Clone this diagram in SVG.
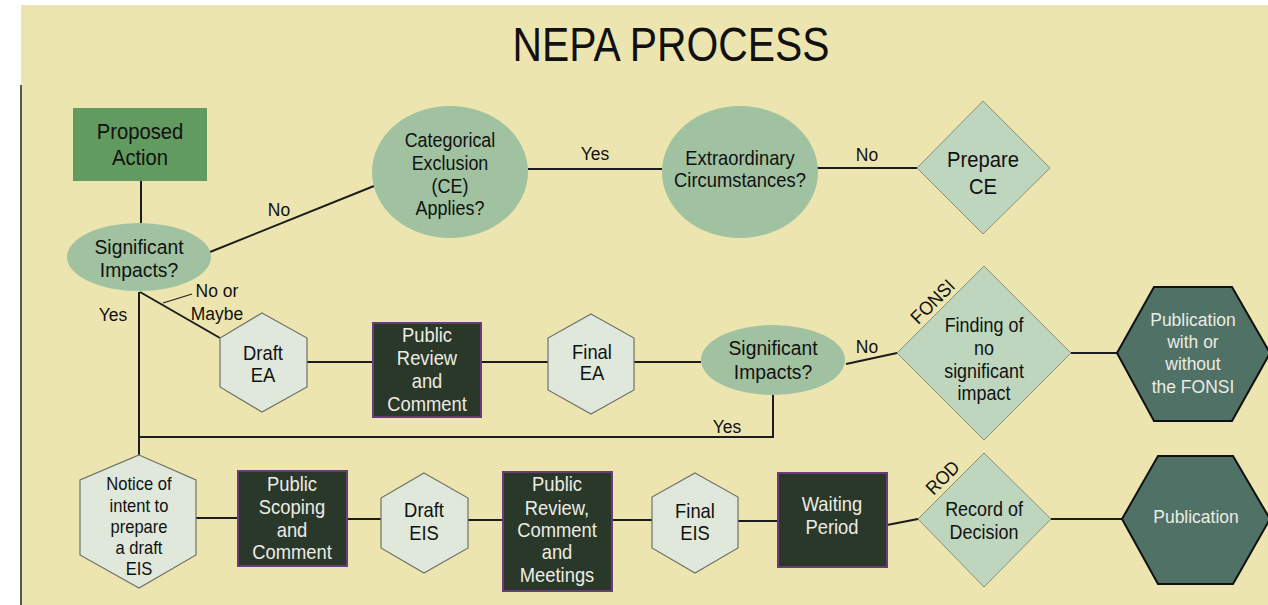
<svg xmlns="http://www.w3.org/2000/svg" width="1268" height="605" viewBox="0 0 1268 605">
<style>
text{font-family:"Liberation Sans",Arial,sans-serif;text-anchor:middle;fill:#111;transform-box:fill-box;transform-origin:center;transform:scaleX(0.92)}
text.title{transform:none}
.w{fill:#ecece4}
.lbl{font-size:19px}
.ell{fill:#a0c2a0}
.dia{fill:#bfd6be;stroke:#8a8f78;stroke-width:1}
.hexl{fill:#dfe8db;stroke:#6f7268;stroke-width:1.2}
.hexd{fill:#4f7166;stroke:#111;stroke-width:2}
.box{fill:#2a382a;stroke:#6a3d7a;stroke-width:2}
#connectors line,#connectors polyline{stroke:#1c1c1c;stroke-width:2;fill:none}
</style>
<rect x="0" y="0" width="1268" height="605" fill="#ffffff"/>
<rect x="21" y="5" width="1247" height="600" fill="#ede5b0"/>
<line x1="21" y1="85" x2="21" y2="605" stroke="#555" stroke-width="2"/>
<text class="title" x="671" y="61" style="font-size:48px" textLength="317" lengthAdjust="spacingAndGlyphs">NEPA PROCESS</text>

<g id="connectors">
<line x1="141" y1="181" x2="141" y2="223"/>
<line x1="210" y1="252" x2="374" y2="186"/>
<line x1="528" y1="169" x2="662" y2="169"/>
<line x1="817" y1="168" x2="917" y2="168"/>
<line x1="140" y1="292" x2="220" y2="338"/>
<line x1="163" y1="303" x2="192" y2="294" style="stroke-width:1.2"/>
<line x1="139" y1="292" x2="139" y2="455"/>
<polyline points="139,437 773,437 773,394"/>
<line x1="307" y1="362" x2="372" y2="362"/>
<line x1="481" y1="362" x2="548" y2="362"/>
<line x1="634" y1="362" x2="701" y2="362"/>
<line x1="846" y1="364" x2="897" y2="353"/>
<line x1="1071" y1="353" x2="1117" y2="353"/>
<line x1="196" y1="518" x2="238" y2="518"/>
<line x1="347" y1="519" x2="381" y2="519"/>
<line x1="468" y1="520" x2="503" y2="520"/>
<line x1="612" y1="520" x2="652" y2="520"/>
<line x1="738" y1="521" x2="778" y2="521"/>
<line x1="887" y1="525" x2="918" y2="519"/>
<line x1="1051" y1="519" x2="1122" y2="519"/>
<text class="lbl" x="279" y="216">No</text>
<text class="lbl" x="595" y="160">Yes</text>
<text class="lbl" x="867" y="161">No</text>
<text class="lbl" x="217" y="297">No or</text>
<text class="lbl" x="217" y="320">Maybe</text>
<text class="lbl" x="113" y="321">Yes</text>
<text class="lbl" x="727" y="433">Yes</text>
<text class="lbl" x="867" y="353">No</text>
<g transform="translate(933,302) rotate(-45)"><text class="lbl" x="0" y="6">FONSI</text></g>
<g transform="translate(943,478) rotate(-45)"><text class="lbl" x="0" y="6">ROD</text></g>
</g>

<g id="proposed-action">
<rect x="73" y="108" width="134" height="73" fill="#629b5f"/>
<text x="140" y="139" style="font-size:22px">Proposed</text>
<text x="140" y="165" style="font-size:22px">Action</text>
</g>

<g id="significant-impacts-1">
<ellipse class="ell" cx="139" cy="257" rx="72" ry="34"/>
<text x="139" y="254" style="font-size:21px">Significant</text>
<text x="139" y="277" style="font-size:21px">Impacts?</text>
</g>

<g id="ce-applies">
<ellipse class="ell" cx="450" cy="172" rx="78" ry="66"/>
<g style="font-size:19.5px">
<text x="450" y="147">Categorical</text>
<text x="450" y="170">Exclusion</text>
<text x="450" y="193">(CE)</text>
<text x="450" y="215">Applies?</text>
</g>
</g>

<g id="extraordinary">
<ellipse class="ell" cx="740" cy="172" rx="78" ry="66"/>
<text x="740" y="165" style="font-size:20px">Extraordinary</text>
<text x="740" y="187" style="font-size:20px">Circumstances?</text>
</g>

<g id="prepare-ce">
<polygon class="dia" points="917,168 983,101 1050,168 983,234"/>
<text x="983" y="167" style="font-size:22px">Prepare</text>
<text x="983" y="194" style="font-size:22px">CE</text>
</g>

<g id="draft-ea">
<polygon class="hexl" points="262,313 307,338 307,387 262,412 220,387 220,338"/>
<text x="263" y="360" style="font-size:20px">Draft</text>
<text x="263" y="382" style="font-size:20px">EA</text>
</g>

<g id="public-review-ea">
<rect class="box" x="373" y="323" width="108" height="94"/>
<g style="font-size:20px">
<text class="w" x="427" y="342">Public</text>
<text class="w" x="427" y="365">Review</text>
<text class="w" x="427" y="388">and</text>
<text class="w" x="427" y="411">Comment</text>
</g>
</g>

<g id="final-ea">
<polygon class="hexl" points="591,314 634,338 634,390 591,414 548,390 548,338"/>
<text x="592" y="359" style="font-size:20px">Final</text>
<text x="592" y="380" style="font-size:20px">EA</text>
</g>

<g id="significant-impacts-2">
<ellipse class="ell" cx="773" cy="360" rx="72" ry="35"/>
<text x="773" y="355" style="font-size:21px">Significant</text>
<text x="773" y="379" style="font-size:21px">Impacts?</text>
</g>

<g id="fonsi">
<polygon class="dia" points="897,353 984,266 1071,353 984,440"/>
<g style="font-size:19.5px">
<text x="984" y="332">Finding of</text>
<text x="984" y="355">no</text>
<text x="984" y="378">significant</text>
<text x="984" y="400">impact</text>
</g>
</g>

<g id="publication-fonsi">
<polygon class="hexd" points="1117,353 1154,287 1232,287 1270,353 1232,421 1154,421"/>
<g style="font-size:19px">
<text class="w" x="1193" y="326">Publication</text>
<text class="w" x="1193" y="348">with or</text>
<text class="w" x="1193" y="370">without</text>
<text class="w" x="1193" y="393">the FONSI</text>
</g>
</g>

<g id="notice-of-intent">
<polygon class="hexl" points="139,455 196,480 196,555 139,588 80,555 80,480"/>
<g style="font-size:18px">
<text x="139" y="490">Notice of</text>
<text x="139" y="512">intent to</text>
<text x="139" y="533">prepare</text>
<text x="139" y="554">a draft</text>
<text x="139" y="575">EIS</text>
</g>
</g>

<g id="public-scoping">
<rect class="box" x="238" y="471" width="109" height="95"/>
<g style="font-size:20px">
<text class="w" x="292" y="491">Public</text>
<text class="w" x="292" y="514">Scoping</text>
<text class="w" x="292" y="537">and</text>
<text class="w" x="292" y="559">Comment</text>
</g>
</g>

<g id="draft-eis">
<polygon class="hexl" points="424,473 468,498 468,548 424,573 381,548 381,498"/>
<text x="424" y="517" style="font-size:20px">Draft</text>
<text x="424" y="540" style="font-size:20px">EIS</text>
</g>

<g id="public-review-eis">
<rect class="box" x="503" y="472" width="109" height="119"/>
<g style="font-size:20px">
<text class="w" x="557" y="491">Public</text>
<text class="w" x="557" y="515">Review,</text>
<text class="w" x="557" y="537">Comment</text>
<text class="w" x="557" y="559">and</text>
<text class="w" x="557" y="582">Meetings</text>
</g>
</g>

<g id="final-eis">
<polygon class="hexl" points="695,473 738,497 738,548 695,573 652,548 652,497"/>
<text x="695" y="518" style="font-size:20px">Final</text>
<text x="695" y="540" style="font-size:20px">EIS</text>
</g>

<g id="waiting-period">
<rect class="box" x="778" y="473" width="109" height="94"/>
<text class="w" x="832" y="511" style="font-size:20px">Waiting</text>
<text class="w" x="832" y="534" style="font-size:20px">Period</text>
</g>

<g id="record-of-decision">
<polygon class="dia" points="918,519 984,453 1051,519 984,587"/>
<text x="984" y="516" style="font-size:19.5px">Record of</text>
<text x="984" y="539" style="font-size:19.5px">Decision</text>
</g>

<g id="publication">
<polygon class="hexd" points="1122,519 1158,456 1233,456 1270,519 1233,584 1158,584"/>
<text class="w" x="1196" y="523" style="font-size:19px">Publication</text>
</g>
</svg>
